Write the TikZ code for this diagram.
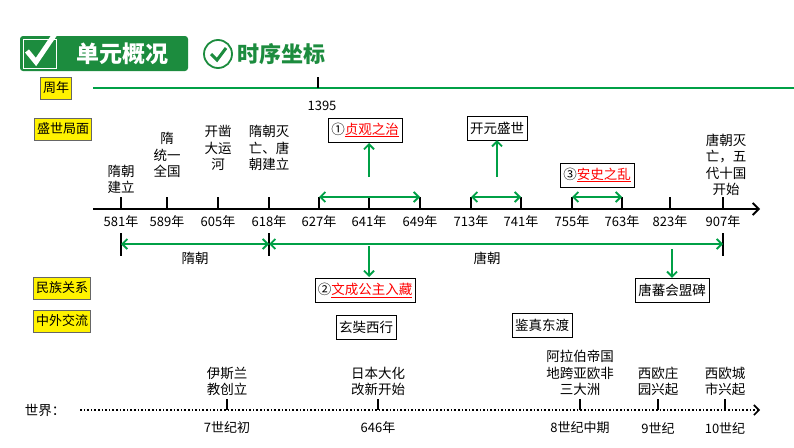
\documentclass[tikz,border=0pt]{standalone}
\usepackage{fontspec}
\setmainfont{Noto Sans CJK SC}
\usetikzlibrary{arrows.meta, positioning}
\definecolor{hdgreen}{RGB}{28,140,62}
\definecolor{lgreen}{RGB}{0,160,70}
\tikzset{
    tag/.style={draw=black!60, fill=yellow, font=\fontsize{13}{15}\selectfont, inner sep=2.5pt, minimum height=22pt},
    event/.style={draw, fill=white, font=\fontsize{13.5}{15}\selectfont, inner sep=3pt, minimum height=24pt},
    note/.style={font=\fontsize{13.5}{16.5}\selectfont, align=center, inner sep=1pt},
    gline/.style={draw=lgreen, line width=1.8pt},
    garrow/.style={-{Straight Barb[length=5pt,width=10pt]}, lgreen, line width=1.8pt},
    gboth/.style={{Straight Barb[length=5pt,width=10pt]}-{Straight Barb[length=5pt,width=10pt]}, lgreen, line width=1.8pt},
    tick/.style={line width=1.5pt}
}
\newcommand{\redu}[1]{\textcolor{red}{\underline{#1}}}
\begin{document}
\begin{tikzpicture}[x=1pt, y=-1pt]
    \useasboundingbox[fill=white] (0,0) rectangle (794,447);
    % header
    \fill[hdgreen, rounded corners=3pt] (20,36) rectangle (188,71);
    \draw[white, line width=1pt] (23,39) rectangle (56,68);
    \draw[white, line width=5pt] (27,51) -- (36,62) -- (55,34);
    \node (head) [white, font=\fontsize{23}{25}\bfseries\selectfont] at (122,54) {单元概况};
    \draw[hdgreen, line width=1.8pt] (218,54) circle (14);
    \draw[hdgreen, line width=3pt] (211,54) -- (217,60) -- (226,48);
    \node (sub) [hdgreen, font=\fontsize{22}{24}\bfseries\selectfont, anchor=west] at (234,54) {时序坐标};
    % years line
    \node (zn) [tag] at (56,88) {周年};
    \draw[gline] (93,88) -- (794,88);
    \draw[tick] (318,77) -- (318,88);
    \node (yr) [font=\fontsize{13}{15}\selectfont] at (322,106) {1395};
    \node (ss) [tag] at (63,129) {盛世局面};
    \node (mz) [tag] at (62,288) {民族关系};
    \node (zw) [tag] at (62,321) {中外交流};
    % main axis
    \draw[-{Straight Barb[length=6pt,width=12pt]}, line width=1.8pt] (93,209) -- (760,209);
    \foreach \x/\y [count=\i] in {121/581,167/589,218/605,269/618,319/627,369/641,420/649,471/713,521/741,572/755,622/763,670/823,723/907}{
        \coordinate (t\i) at (\x,197);
        \draw[tick] (\x,197) -- (\x,209);
        \node (y\i) [font=\fontsize{13}{15}\selectfont] at (\x,222) {\y 年};
    }
    \node (e1) [note, anchor=south] at (121,195) {隋朝\\建立};
    \node (e2) [note, anchor=south] at (167,179) {隋\\统一\\全国};
    \node (e3) [note, anchor=south] at (218,172) {开凿\\大运\\河};
    \node (e4) [note, anchor=south] at (269,172) {隋朝灭\\亡、唐\\朝建立};
    \node (e13) [note, anchor=south] at (726,197) {唐朝灭\\亡，五\\代十国\\开始};
    % prosperity
    \draw[gboth] (t5) -- (t7);
    \node (zg) [event] at (365,130) {①\redu{贞观之治}};
    \draw[garrow] (369,177) -- (369,143);
    \draw[gboth] (t8) -- (t9);
    \node (ky) [event] at (497,128) {开元盛世};
    \draw[garrow] (497,177) -- (ky);
    \draw[gboth] (t10) -- (t11);
    \node (as) [event] at (597,175) {③\redu{安史之乱}};
    % dynasties
    \coordinate (sa) at (121,244);
    \coordinate (sb) at (269,244);
    \coordinate (tb) at (723,244);
    \draw[tick] (121,233) -- (121,256);
    \draw[tick] (269,233) -- (269,256);
    \draw[tick] (723,233) -- (723,256);
    \draw[gboth] (sa) -- (sb);
    \draw[gboth] (sb) -- (tb);
    \node (sui) [font=\fontsize{13.5}{15}\selectfont] at (195,258) {隋朝};
    \node (tang) [font=\fontsize{13.5}{15}\selectfont] at (487,258) {唐朝};
    % ethnic relations and exchanges
    \node (wc) [event] at (365,290) {②\redu{文成公主入藏}};
    \draw[garrow] (369,246) -- (369,277);
    \node (tf) [event] at (672,290) {唐蕃会盟碑};
    \draw[garrow] (672,249) -- (tf);
    \node (xz) [event] at (366,327) {玄奘西行};
    \node (jz) [event] at (542,325) {鉴真东渡};
    % world
    \node (sj) [font=\fontsize{13.5}{15}\selectfont] at (45,410) {世界：};
    \draw[-{Straight Barb[length=5pt,width=10pt]}, line width=1.6pt, dotted] (80,410) -- (760,410);
    \foreach \x/\up/\dn [count=\i] in {227/伊斯兰\\教创立/7世纪初,378/日本大化\\改新开始/646年,580/阿拉伯帝国\\地跨亚欧非\\三大洲/8世纪中期,658/西欧庄\\园兴起/9世纪,725/西欧城\\市兴起/10世纪}{
        \draw[tick, line width=1.2pt] (\x,399) -- (\x,410);
        \node (w\i) [note, anchor=south] at (\x,397) {\up};
        \node (d\i) [font=\fontsize{13}{15}\selectfont] at (\x,428) {\dn};
    }
\end{tikzpicture}
\end{document}
